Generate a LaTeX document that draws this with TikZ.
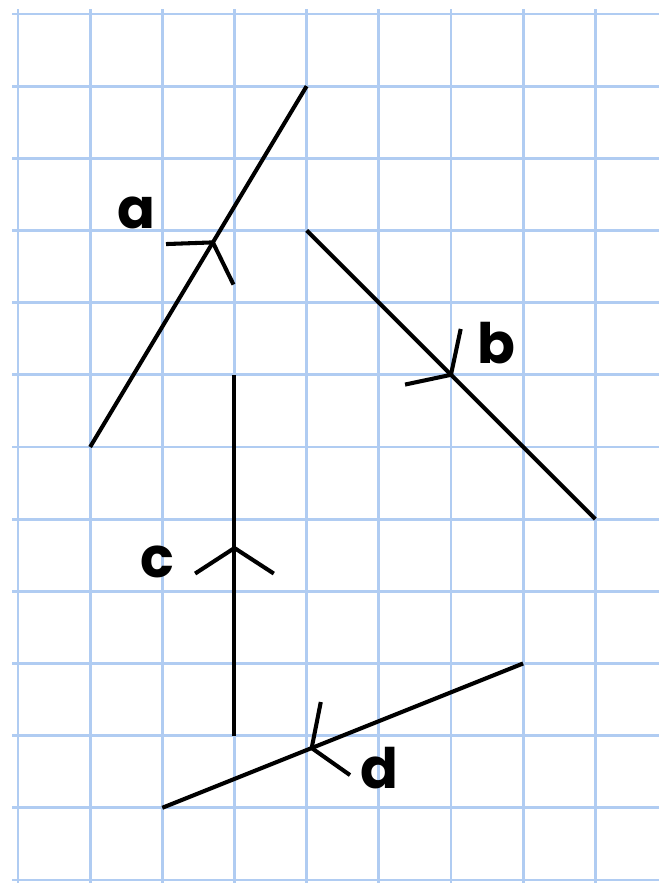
\documentclass[tikz,border=0pt]{standalone}
\usepackage{fontspec}
\setmainfont{Poppins}
\usetikzlibrary{calc}
\definecolor{gridblue}{RGB}{176,204,242}
\tikzset{
  gridline/.style={gridblue, line width=1.1pt},
  seg/.style={black, line width=1.6pt},
  lab/.style={font=\fontsize{22}{25}\selectfont\bfseries, inner sep=0pt}
}
\begin{document}
\begin{tikzpicture}
  \useasboundingbox (-0.249, -0.042) rectangle (8.88, 12.194);
  \foreach \x in {0,...,8} \draw[gridline] (\x, -0.06) -- (\x, 12.07);
  \foreach \y in {0,...,12} \draw[gridline] (-0.08, \y) -- (8.9, \y);
  % segments
  \coordinate (a1) at (1, 6);  \coordinate (a2) at (4, 11);
  \coordinate (b1) at (4, 9);  \coordinate (b2) at (8, 5);
  \coordinate (c1) at (3, 2);  \coordinate (c2) at (3, 7);
  \coordinate (d1) at (7, 3);  \coordinate (d2) at (2, 1);
  \draw[seg] (a1) -- (a2);
  \draw[seg] (b1) -- (b2);
  \draw[seg] (c1) -- (c2);
  \draw[seg] (d1) -- (d2);
  % arrow marks
  \coordinate (va) at ($(a1)!0.567!(a2)$);
  \coordinate (vb) at ($(b1)!0.5!(b2)$);
  \coordinate (vc) at ($(c1)!0.52!(c2)$);
  \coordinate (vd) at ($(d1)!0.586!(d2)$);
  \draw[seg] ($(va)!0.65cm!57:(a1)$) -- (va) -- ($(va)!0.65cm!-57:(a1)$);
  \draw[seg] ($(vb)!0.65cm!57:(b1)$) -- (vb) -- ($(vb)!0.65cm!-57:(b1)$);
  \draw[seg] ($(vc)!0.65cm!57:(c1)$) -- (vc) -- ($(vc)!0.65cm!-57:(c1)$);
  \draw[seg] ($(vd)!0.65cm!57:(d1)$) -- (vd) -- ($(vd)!0.65cm!-57:(d1)$);
  % labels
  \node[lab] (la) at (1.646, 9.24) {a};
  \node[lab] (lb) at (6.625, 7.44) {b};
  \node[lab] (lc) at (1.936, 4.41) {c};
  \node[lab] (ld) at (5.006, 1.55) {d};
\end{tikzpicture}
\end{document}
